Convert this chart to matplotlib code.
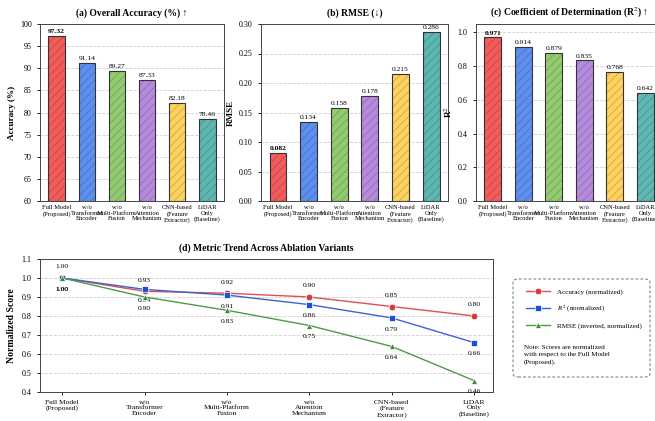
import numpy as np
import matplotlib
matplotlib.use("Agg")
import matplotlib.pyplot as plt
from matplotlib.patches import FancyBboxPatch
from matplotlib.lines import Line2D
from matplotlib import rcParams

rcParams['font.family'] = ['Liberation Serif', 'DejaVu Serif']
rcParams['mathtext.fontset'] = 'stix'
rcParams['hatch.linewidth'] = 0.6

# ablation variants
variants = ["Full Model\n(Proposed)", "w/o\nTransformer\nEncoder",
            "w/o\nMulti-Platform\nFusion", "w/o\nAttention\nMechanism",
            "CNN-based\n(Feature\nExtractor)", "LiDAR\nOnly\n(Baseline)"]

# raw metrics
accuracy = [97.32, 91.14, 89.27, 87.33, 82.18, 78.46]
rmse = [0.082, 0.134, 0.158, 0.178, 0.215, 0.286]
r2 = [0.971, 0.914, 0.879, 0.835, 0.768, 0.642]

# normalized scores (as labelled)
acc_norm = [1.00, 0.93, 0.92, 0.90, 0.85, 0.80]
r2_norm = [1.00, 0.94, 0.91, 0.86, 0.79, 0.66]
rmse_norm = [1.00, 0.90, 0.83, 0.75, 0.64, 0.46]

bar_colors = ['#F45B5B', '#5E8FEF', '#93CB70', '#B68BDD', '#FFD25E', '#5DB8B1']

W, H = 655, 421
fig = plt.figure(figsize=(W / 100, H / 100), dpi=100)


def px_axes(x0, y0, x1, y1):
    return fig.add_axes([x0 / W, 1 - y1 / H, (x1 - x0) / W, (y1 - y0) / H])


def darker(c, f=0.8):
    rgb = np.array(matplotlib.colors.to_rgb(c))
    return tuple(rgb * f)


def bar_panel(ax, values, title, ylabel, ylim, yticks, fmt, off):
    x = np.arange(len(values))
    ax.set_axisbelow(True)
    ax.grid(axis='y', linestyle='--', color='#d0d0d0', linewidth=0.6)
    for i, v in enumerate(values):
        ax.bar(x[i], v - ylim[0], bottom=ylim[0], width=0.55,
               color=bar_colors[i], edgecolor=darker(bar_colors[i]),
               hatch='////', linewidth=0, zorder=2)
        ax.bar(x[i], v - ylim[0], bottom=ylim[0], width=0.55, fill=False,
               edgecolor='#333333', linewidth=0.8, zorder=3)
        ax.text(x[i], v + off, fmt.format(v), ha='center', va='bottom',
                fontsize=5.4, fontweight='bold' if i == 0 else 'normal')
    ax.set_ylim(*ylim)
    ax.set_yticks(yticks)
    ax.set_xticks(x)
    ax.set_xticklabels(variants, fontsize=4.7, linespacing=1.15)
    ax.tick_params(axis='y', labelsize=5.8, length=2.5, width=0.6)
    ax.tick_params(axis='x', length=0, pad=3)
    ax.set_title(title, fontsize=6.9, fontweight='bold', pad=6)
    ax.set_ylabel(ylabel, fontsize=6.6, fontweight='bold', labelpad=3)
    for s in ax.spines.values():
        s.set_linewidth(0.7)
        s.set_color('#444444')


ax1 = px_axes(40, 24, 224, 201)
bar_panel(ax1, accuracy, "(a) Overall Accuracy (%) \u2191", "Accuracy (%)",
          (60, 100), np.arange(60, 101, 5), "{:.2f}", 0.5)

ax2 = px_axes(261, 24, 448, 201)
bar_panel(ax2, rmse, "(b) RMSE (\u2193)", "RMSE",
          (0, 0.30), np.arange(0, 0.301, 0.05), "{:.3f}", 0.003)
ax2.set_yticklabels([f"{t:.2f}" for t in np.arange(0, 0.301, 0.05)])

ax3 = px_axes(476, 24, 662, 201)
bar_panel(ax3, r2, "(c) Coefficient of Determination (R$^2$) \u2191", "R$^2$",
          (0, 1.05), np.arange(0, 1.01, 0.2), "{:.3f}", 0.01)
ax3.set_yticklabels([f"{t:.1f}" for t in np.arange(0, 1.01, 0.2)])

# trend panel
ax4 = px_axes(40, 259, 493, 392)
xs = np.arange(len(variants))
ax4.set_axisbelow(True)
ax4.grid(axis='y', linestyle='--', color='#d0d0d0', linewidth=0.6)
series = [
    (acc_norm, '#E05050', '#D93A3A', 'o', 'Accuracy (normalized)', 8),
    (r2_norm, '#3A63D6', '#1E4FD8', 's', '$R^2$ (normalized)', -8),
    (rmse_norm, '#4E9A46', '#3B8A35', '^', 'RMSE (inverted, normalized)', -8),
]
handles = []
for vals, lc, mc, mk, lab, off in series:
    ax4.plot(xs, vals, color=lc, linewidth=1.0, marker=mk, markersize=4.8,
             markerfacecolor=mc, markeredgecolor='white', markeredgewidth=0.5,
             zorder=3)
    for xi, v in zip(xs, vals):
        ax4.annotate(f"{v:.2f}", (xi, v), xytext=(0, off), textcoords='offset points',
                     ha='center', va='center', fontsize=5.4)
    handles.append(Line2D([], [], color=lc, linewidth=1.0, marker=mk, markersize=4.8,
                          markerfacecolor=mc, markeredgecolor='white',
                          markeredgewidth=0.5, label=lab))
ax4.set_xlim(-0.27, 5.23)
ax4.set_ylim(0.4, 1.1)
ax4.set_yticks(np.arange(0.4, 1.101, 0.1))
ax4.set_yticklabels([f"{t:.1f}" for t in np.arange(0.4, 1.101, 0.1)])
ax4.set_xticks(xs)
ax4.set_xticklabels(variants, fontsize=5.4, linespacing=1.15)
ax4.tick_params(axis='y', labelsize=5.8, length=2.5, width=0.6)
ax4.tick_params(axis='x', length=2.5, width=0.6, pad=3)
ax4.set_title("(d) Metric Trend Across Ablation Variants", fontsize=6.9,
              fontweight='bold', pad=6)
ax4.set_ylabel("Normalized Score", fontsize=7.0, fontweight='bold', labelpad=4)
for s in ax4.spines.values():
    s.set_linewidth(0.7)
    s.set_color('#444444')

# legend box with note
box = FancyBboxPatch((513 / W, 1 - 377 / H), 137 / W, 98 / H,
                     boxstyle="round,pad=0,rounding_size=0.008",
                     transform=fig.transFigure, fill=False, edgecolor='#777777',
                     linestyle=(0, (3, 2)), linewidth=0.7)
fig.patches.append(box)
fig.legend(handles=handles, loc='upper left',
           bbox_to_anchor=(522 / W, 1 - 285 / H), frameon=False, fontsize=5.1,
           handlelength=3.4, labelspacing=1.25, borderpad=0, handletextpad=1.1)
fig.text(524 / W, 1 - 355 / H,
         "Note: Scores are normalized\nwith respect to the Full Model\n(Proposed).",
         fontsize=5.1, va='center', ha='left', linespacing=1.6)

fig.savefig("out.png", dpi=100)
